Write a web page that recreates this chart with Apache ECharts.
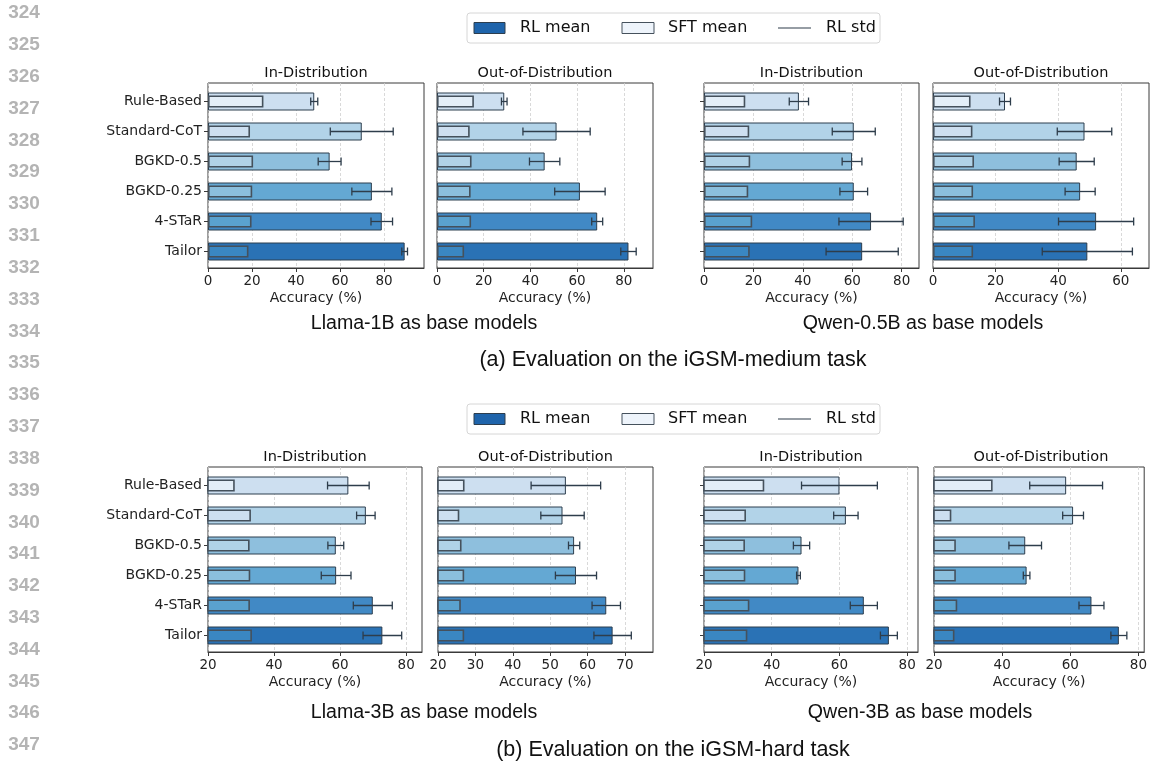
<!DOCTYPE html>
<html>
<head>
<meta charset="utf-8">
<script src="https://cdn.jsdelivr.net/npm/echarts@6/dist/echarts.min.js"></script>
<style>
html,body{margin:0;padding:0;background:#fff;}
#chart{width:1150px;height:761px;}
</style>
</head>
<body>
<div id="chart"></div>
<script>
// ---------------- DATA ----------------
const categories = ['Rule-Based', 'Standard-CoT', 'BGKD-0.5', 'BGKD-0.25', '4-STaR', 'Tailor'];

// (a) iGSM-medium, Llama-1B
const rlLlama1bID  = [48.3, 69.9, 55.3, 74.5, 79.0, 89.4];
const sftLlama1bID = [25.2, 19.1, 20.5, 20.1, 19.8, 18.4];
const stdLlama1bID = [1.6, 14.3, 5.2, 9.1, 4.9, 1.3];
const rlLlama1bOOD  = [28.8, 51.2, 46.1, 61.2, 68.6, 82.0];
const sftLlama1bOOD = [15.8, 14.0, 14.8, 14.4, 14.6, 11.6];
const stdLlama1bOOD = [1.2, 14.4, 6.5, 10.8, 2.35, 3.3];
// (a) iGSM-medium, Qwen-0.5B
const rlQwen05ID  = [38.4, 60.6, 59.9, 60.6, 67.6, 64.0];
const sftQwen05ID = [16.7, 18.3, 18.7, 17.9, 19.5, 18.5];
const stdQwen05ID = [3.9, 8.7, 4.0, 5.6, 13.0, 14.6];
const rlQwen05OOD  = [23.0, 48.4, 45.9, 47.0, 52.1, 49.3];
const sftQwen05OOD = [12.0, 12.6, 13.1, 12.8, 13.4, 12.8];
const stdQwen05OOD = [1.75, 8.7, 5.6, 4.8, 12.0, 14.4];
// (b) iGSM-hard, Llama-3B
const rlLlama3bID  = [62.5, 67.8, 58.7, 58.8, 69.9, 72.8];
const sftLlama3bID = [28.1, 33.0, 32.6, 32.8, 32.7, 33.3];
const stdLlama3bID = [6.3, 2.8, 2.4, 4.5, 5.9, 5.85];
const rlLlama3bOOD  = [54.2, 53.3, 56.4, 56.9, 65.0, 66.7];
const sftLlama3bOOD = [27.1, 25.7, 26.3, 27.0, 26.1, 27.0];
const stdLlama3bOOD = [9.3, 5.8, 1.5, 5.5, 3.8, 5.0];
// (b) iGSM-hard, Qwen-3B
const rlQwen3bID  = [60.0, 61.9, 48.8, 47.9, 67.2, 74.6];
const sftQwen3bID = [37.8, 32.4, 32.1, 32.2, 33.4, 32.8];
const stdQwen3bID = [11.2, 3.6, 2.4, 0.55, 4.0, 2.5];
const rlQwen3bOOD  = [58.1, 60.1, 46.3, 46.7, 65.4, 73.3];
const sftQwen3bOOD = [36.9, 25.0, 26.3, 26.3, 26.7, 25.9];
const stdQwen3bOOD = [10.5, 3.0, 4.7, 0.95, 3.6, 2.3];

// tick labels
const ticksA = [0, 20, 40, 60, 80];
const ticksA4 = [0, 20, 40, 60];
const ticksB = [20, 40, 60, 80];
const ticksB6 = [20, 30, 40, 50, 60, 70];

const panelTitles = ['In-Distribution', 'Out-of-Distribution'];
const axisName = 'Accuracy (%)';
const legendNames = ['RL mean', 'SFT mean', 'RL std'];
const captions = ['Llama-1B as base models', 'Qwen-0.5B as base models', '(a) Evaluation on the iGSM-medium task',
                  'Llama-3B as base models', 'Qwen-3B as base models', '(b) Evaluation on the iGSM-hard task'];
const lineNumbers = [];
for (let n = 324; n <= 347; n++) lineNumbers.push(String(n));

// ---------------- STYLE / LAYOUT ----------------
const rlColors  = ['#cddff0', '#b2d3e8', '#8ebfdd', '#64a8d3', '#4189c5', '#2a72b5'];
const sftColors = ['#e3eef8', '#cddff0', '#b0d2e7', '#8bbfdd', '#5aa2cf', '#3a87c2'];
const FONT = 'DejaVu Sans';
const CAPFONT = 'Liberation Sans';

const panels = [
  {rl: rlLlama1bID, sft: sftLlama1bID, sd: stdLlama1bID, left: 208, top: 83, width: 216, min: 0, max: 98.2, ticks: ticksA, title: 0, ylab: true, ytick: true},
  {rl: rlLlama1bOOD, sft: sftLlama1bOOD, sd: stdLlama1bOOD, left: 437, top: 83, width: 216, min: 0, max: 92.5, ticks: ticksA, title: 1, ylab: false, ytick: false},
  {rl: rlQwen05ID, sft: sftQwen05ID, sd: stdQwen05ID, left: 704, top: 83, width: 215, min: 0, max: 87, ticks: ticksA, title: 0, ylab: false, ytick: true},
  {rl: rlQwen05OOD, sft: sftQwen05OOD, sd: stdQwen05OOD, left: 933, top: 83, width: 216, min: 0, max: 69, ticks: ticksA4, title: 1, ylab: false, ytick: false},
  {rl: rlLlama3bID, sft: sftLlama3bID, sd: stdLlama3bID, left: 208, top: 467, width: 214, min: 20, max: 84.8, ticks: ticksB, title: 0, ylab: true, ytick: true},
  {rl: rlLlama3bOOD, sft: sftLlama3bOOD, sd: stdLlama3bOOD, left: 438, top: 467, width: 215, min: 20, max: 77.5, ticks: ticksB6, title: 1, ylab: false, ytick: false},
  {rl: rlQwen3bID, sft: sftQwen3bID, sd: stdQwen3bID, left: 704, top: 467, width: 214, min: 20, max: 83.2, ticks: ticksB, title: 0, ylab: false, ytick: true},
  {rl: rlQwen3bOOD, sft: sftQwen3bOOD, sd: stdQwen3bOOD, left: 934, top: 467, width: 214, min: 20, max: 81.7, ticks: ticksB, title: 1, ylab: false, ytick: false}
];
const PH = 185;      // frame height
const BH = 180;      // band area height (6 x 30px)
const BOFF = 3.5;    // offset of band area inside the frame
const SPINE = '#3a3a3a';
const ERR = '#2e3d4b';

const grid = [], xAxis = [], yAxis = [], series = [], graphic = [];

panels.forEach((p, i) => {
  // frame grid: border, x axis, grid lines
  const gF = grid.length;
  grid.push({left: p.left, top: p.top, width: p.width, height: PH, show: true, borderColor: SPINE, borderWidth: 1, backgroundColor: 'transparent'});
  xAxis.push({
    type: 'value', gridIndex: gF, min: p.min, max: p.max,
    axisLine: {show: true, onZero: false, lineStyle: {color: SPINE, width: 1}},
    axisTick: {show: true, length: 4, lineStyle: {color: SPINE}, customValues: p.ticks},
    axisLabel: {fontFamily: FONT, fontSize: 13.5, color: '#222', margin: 6, customValues: p.ticks},
    splitLine: {show: true, lineStyle: {color: '#cfcfcf', type: [3, 2], width: 0.8}},
    name: axisName, nameLocation: 'middle', nameGap: 23,
    nameTextStyle: {fontFamily: FONT, fontSize: 14, color: '#222'}
  });
  const xF = xAxis.length - 1;
  yAxis.push({type: 'value', gridIndex: gF, show: false, min: 0, max: 1});

  // bar grid: same horizontal extent, categories spaced 30px
  const gB = grid.length;
  grid.push({left: p.left, top: p.top + BOFF, width: p.width, height: BH, show: false});
  xAxis.push({type: 'value', gridIndex: gB, min: p.min, max: p.max, show: false});
  const xB = xAxis.length - 1;
  yAxis.push({
    type: 'category', gridIndex: gB, data: categories, inverse: true,
    axisLine: {show: false},
    axisTick: {show: p.ytick, alignWithLabel: true, length: 4, lineStyle: {color: SPINE}},
    axisLabel: {show: p.ylab, fontFamily: FONT, fontSize: 14, color: '#222', margin: 6},
    splitLine: {show: false}
  });
  const yMain = yAxis.length - 1;
  yAxis.push({type: 'category', gridIndex: gB, data: categories, inverse: true, show: false});
  const ySec = yAxis.length - 1;

  series.push({
    type: 'bar', name: 'RL mean', xAxisIndex: xB, yAxisIndex: yMain, barWidth: 18,
    data: p.rl.map((v, k) => ({value: v, itemStyle: {color: rlColors[k]}})),
    itemStyle: {borderColor: '#2d3e4e', borderWidth: 1},
    silent: true, animation: false, z: 2
  });
  series.push({
    type: 'bar', name: 'SFT mean', xAxisIndex: xB, yAxisIndex: ySec, barWidth: 12,
    data: p.sft.map((v, k) => ({value: v, itemStyle: {color: sftColors[k]}})),
    itemStyle: {borderColor: '#45515c', borderWidth: 1.6},
    silent: true, animation: false, z: 3
  });
  series.push({
    type: 'custom', name: 'RL std', xAxisIndex: xB, yAxisIndex: yMain,
    data: p.rl.map((v, k) => [v - p.sd[k], v + p.sd[k], k]),
    encode: {x: [0, 1], y: 2},
    renderItem: function (params, api) {
      const lo = api.coord([api.value(0), api.value(2)]);
      const hi = api.coord([api.value(1), api.value(2)]);
      const h = 4;
      const st = {stroke: ERR, lineWidth: 1.3};
      return {type: 'group', children: [
        {type: 'line', shape: {x1: lo[0], y1: lo[1], x2: hi[0], y2: hi[1]}, style: st},
        {type: 'line', shape: {x1: lo[0], y1: lo[1] - h, x2: lo[0], y2: lo[1] + h}, style: st},
        {type: 'line', shape: {x1: hi[0], y1: hi[1] - h, x2: hi[0], y2: hi[1] + h}, style: st}
      ]};
    },
    silent: true, animation: false, z: 4
  });

  graphic.push({type: 'text', x: p.left + p.width / 2, y: p.top - 10, z: 10,
    style: {text: panelTitles[p.title], font: '14.5px "' + FONT + '"', fill: '#111', textAlign: 'center', textVerticalAlign: 'middle'}});
});

function addLegend(cy) {
  graphic.push({type: 'rect', shape: {x: 467, y: cy - 15, width: 413, height: 30, r: 3},
    style: {fill: '#fff', stroke: '#d6d6d6', lineWidth: 1}, z: 10});
  graphic.push({type: 'rect', shape: {x: 474, y: cy - 5.5, width: 31, height: 11},
    style: {fill: '#1f64ab', stroke: '#2d3e4e', lineWidth: 1}, z: 11});
  graphic.push({type: 'text', x: 520, y: cy, z: 11,
    style: {text: legendNames[0], font: '16px "' + FONT + '"', fill: '#111', textVerticalAlign: 'middle'}});
  graphic.push({type: 'rect', shape: {x: 622, y: cy - 5.5, width: 32, height: 11},
    style: {fill: '#eef4fb', stroke: '#45515c', lineWidth: 1}, z: 11});
  graphic.push({type: 'text', x: 668, y: cy, z: 11,
    style: {text: legendNames[1], font: '16px "' + FONT + '"', fill: '#111', textVerticalAlign: 'middle'}});
  graphic.push({type: 'line', shape: {x1: 778, y1: cy, x2: 811, y2: cy},
    style: {stroke: ERR, lineWidth: 1.2}, z: 11});
  graphic.push({type: 'text', x: 826, y: cy, z: 11,
    style: {text: legendNames[2], font: '16px "' + FONT + '"', fill: '#111', textVerticalAlign: 'middle'}});
}
addLegend(28);
addLegend(419);

const capPos = [[424, 324], [923, 324], [673, 360], [424, 713], [920, 713], [673, 750]];
const capSize = [19.6, 19.6, 21.5, 19.6, 19.6, 21.5];
captions.forEach((c, k) => {
  graphic.push({type: 'text', x: capPos[k][0], y: capPos[k][1], z: 10,
    style: {text: c, font: capSize[k] + 'px "' + CAPFONT + '"', fill: '#111', textAlign: 'center', textVerticalAlign: 'middle'}});
});

lineNumbers.forEach((t, k) => {
  graphic.push({type: 'text', x: 24, y: 13 + k * 31.83, z: 10,
    style: {text: t, font: 'bold 19px "' + CAPFONT + '"', fill: '#b4b4b4', textAlign: 'center', textVerticalAlign: 'middle'}});
});

const chart = echarts.init(document.getElementById('chart'), null, {renderer: 'canvas'});
chart.setOption({
  animation: false,
  backgroundColor: '#fff',
  grid, xAxis, yAxis, series, graphic
});
</script>
</body>
</html>
